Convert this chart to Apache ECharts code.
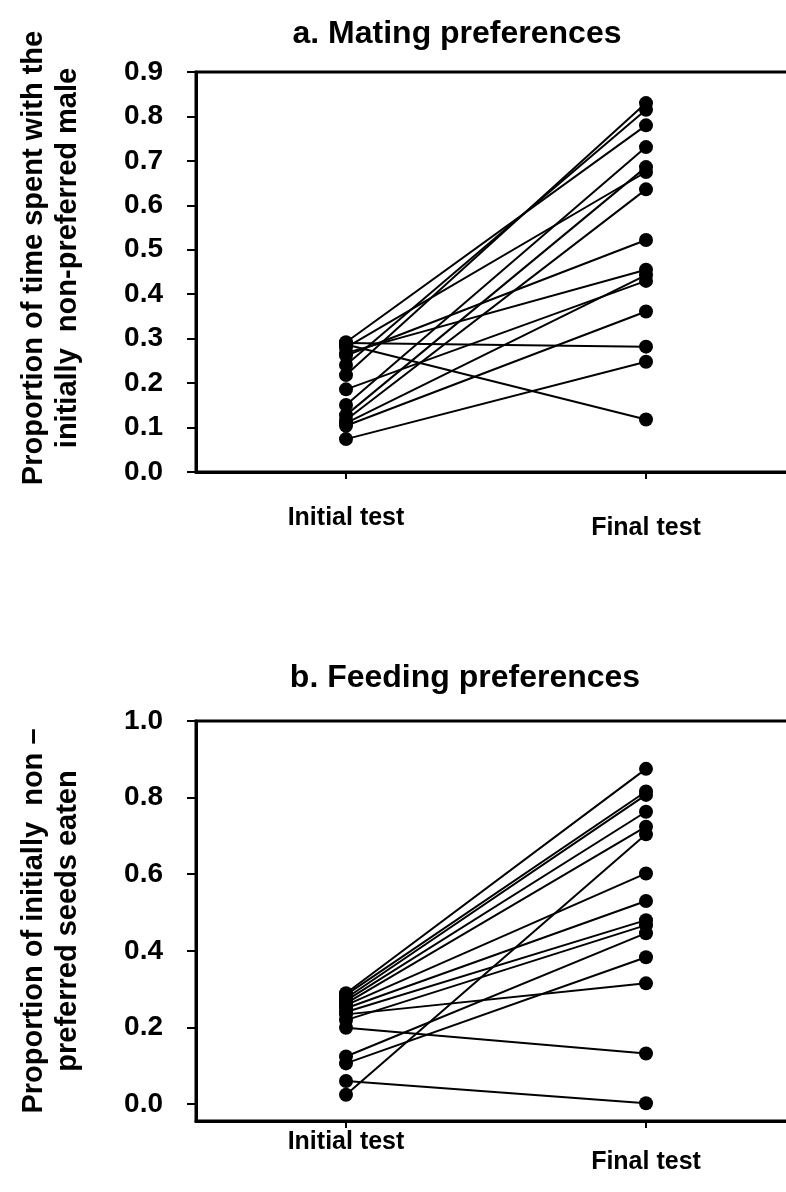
<!DOCTYPE html>
<html>
<head>
<meta charset="utf-8">
<script src="https://cdn.jsdelivr.net/npm/echarts@6/dist/echarts.min.js"></script>
<style>
  html, body { margin: 0; padding: 0; background: #fff; }
  #main { width: 786px; height: 1192px; }
</style>
</head>
<body>
<div id="main"></div>
<script>
// a. mating preferences, one value per female (initial -> final)
const mateInitial = [0.290, 0.287, 0.292, 0.280, 0.268, 0.262, 0.241, 0.218, 0.186, 0.151, 0.128, 0.117, 0.110, 0.104, 0.074];
const mateFinal   = [0.282, 0.118, 0.780, 0.675, 0.455, 0.522, 0.815, 0.830, 0.430, 0.731, 0.686, 0.636, 0.443, 0.361, 0.248];
// b. feeding preferences
const feedInitial = [0.289, 0.285, 0.276, 0.270, 0.263, 0.258, 0.250, 0.240, 0.234, 0.219, 0.199, 0.124, 0.106, 0.060, 0.024];
const feedFinal   = [0.875, 0.816, 0.807, 0.763, 0.724, 0.602, 0.530, 0.480, 0.315, 0.467, 0.132, 0.446, 0.383, 0.002, 0.704];
const testPos = [1, 3];
const testNames = ['Initial test', 'Final test'];
const mateTicks = [0, 0.1, 0.2, 0.3, 0.4, 0.5, 0.6, 0.7, 0.8, 0.9];
const feedTicks = [0, 0.2, 0.4, 0.6, 0.8, 1.0];

const FONT = 'Liberation Sans, Arial, sans-serif';
let myChart = echarts.init(document.getElementById('main'));

function pairSeries(init, fin, idx) {
  return init.map(function (v, i) {
    return {
      type: 'line',
      xAxisIndex: idx,
      yAxisIndex: idx,
      data: [[testPos[0], v], [testPos[1], fin[i]]],
      symbol: 'circle',
      symbolSize: 14,
      lineStyle: { color: '#000', width: 2 },
      itemStyle: { color: '#000' },
      silent: true
    };
  });
}

function xAxisOf(idx, margin, drop) {
  return {
    gridIndex: idx,
    type: 'value',
    min: 0,
    max: 4.2,
    splitLine: { show: false },
    axisLine: { onZero: false, lineStyle: { color: '#000', width: 3 } },
    axisTick: { customValues: testPos, length: 7, lineStyle: { color: '#000', width: 2 } },
    axisLabel: {
      customValues: testPos,
      margin: margin,
      formatter: function (v) {
        return v === testPos[0] ? '{i|' + testNames[0] + '}' : '{f|' + testNames[1] + '}';
      },
      rich: {
        i: { fontFamily: FONT, fontWeight: 'bold', fontSize: 25, color: '#000' },
        f: { fontFamily: FONT, fontWeight: 'bold', fontSize: 25, color: '#000', padding: [drop, 0, 0, 0] }
      }
    }
  };
}

function yAxisOf(idx, min, max, ticks, name, shift) {
  return {
    gridIndex: idx,
    type: 'value',
    min: min,
    max: max,
    splitLine: { show: false },
    axisLine: { onZero: false, lineStyle: { color: '#000', width: 3 } },
    axisTick: { customValues: ticks, length: 9, lineStyle: { color: '#000', width: 2 } },
    axisLabel: {
      customValues: ticks,
      margin: 33,
      fontFamily: FONT, fontWeight: 'bold', fontSize: 28, color: '#000',
      formatter: function (v) { return v.toFixed(1); }
    },
    name: name,
    nameLocation: 'middle',
    nameGap: 111,
    nameTextStyle: {
      fontFamily: FONT, fontWeight: 'bold', fontSize: 29, lineHeight: 34, color: '#000',
      align: 'center', padding: [0, 0, 0, shift]
    }
  };
}

let option = {
  animation: false,
  backgroundColor: '#fff',
  title: [{
    text: 'a. Mating preferences',
    left: 452, top: 13, textAlign: 'center',
    textStyle: { fontFamily: FONT, fontWeight: 'bold', fontSize: 32, color: '#000' }
  }, {
    text: 'b. Feeding preferences',
    left: 460, top: 657, textAlign: 'center',
    textStyle: { fontFamily: FONT, fontWeight: 'bold', fontSize: 32, color: '#000' }
  }],
  grid: [
    { left: 196, top: 72, width: 630, height: 400, show: true, borderColor: '#000', borderWidth: 3, outerBoundsMode: 'none' },
    { left: 196, top: 721, width: 630, height: 400, show: true, borderColor: '#000', borderWidth: 3, outerBoundsMode: 'none' }
  ],
  xAxis: [xAxisOf(0, 34, 10), xAxisOf(1, 9, 20)],
  yAxis: [
    yAxisOf(0, 0, 0.9, mateTicks, 'Proportion of time spent with the\ninitially  non-preferred male', 28),
    yAxisOf(1, -0.0444, 1.0, feedTicks, 'Proportion of initially  non \u2013\npreferred seeds eaten', 0)
  ],
  series: pairSeries(mateInitial, mateFinal, 0).concat(pairSeries(feedInitial, feedFinal, 1))
};

myChart.setOption(option);
window.addEventListener('resize', function () {
  myChart.resize();
});
</script>
</body>
</html>
